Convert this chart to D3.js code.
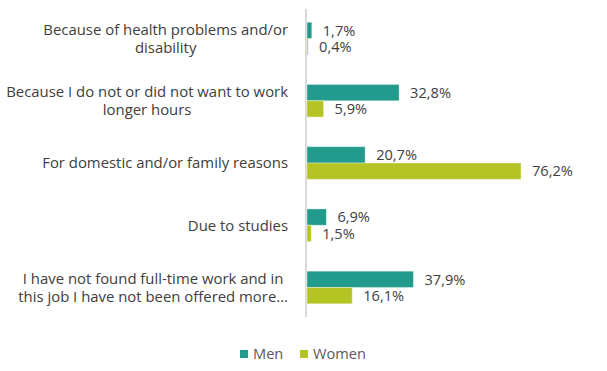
<!DOCTYPE html>
<html>
<head>
<meta charset="utf-8">
<script src="https://cdn.jsdelivr.net/npm/d3@7"></script>
<style>
  html, body { margin: 0; padding: 0; background: #fff; }
  svg { display: block; font-family: "Open Sans", Lato, sans-serif; }
</style>
</head>
<body>
<svg id="chart" width="607" height="371"></svg>
<script>
const categories = [
  ["Because of health problems and/or", "disability"],
  ["Because I do not or did not want to work", "longer hours"],
  ["For domestic and/or family reasons"],
  ["Due to studies"],
  ["I have not found full-time work and in", "this job I have not been offered more..."]
];
const seriesNames = ["Men", "Women"];
const men = [1.7, 32.8, 20.7, 6.9, 37.9];
const women = [0.4, 5.9, 76.2, 1.5, 16.1];
const colors = ["#239B8C", "#B4C424"];

const svg = d3.select("#chart");
const axisX = 306;
const x = d3.scaleLinear().domain([0, 76.2]).range([axisX + 1, 521]);
const idx = d3.range(categories.length);
const y0 = d3.scaleBand().domain(idx).range([7.4, 318.6]).paddingInner(0.476).paddingOuter(0.238);
const y1 = d3.scaleBand().domain(seriesNames).range([0, y0.bandwidth()]);

const data = idx.map(i => ({ i, values: [men[i], women[i]] }));
const fmt = v => d3.format(".1f")(v).replace(".", ",") + "%";
const FS = "14.6px";
const FSC = "14.9px";

svg.append("line")
  .attr("x1", axisX).attr("x2", axisX)
  .attr("y1", 9).attr("y2", 317)
  .attr("stroke", "#d9d9d9").attr("stroke-width", 2);

const g = svg.selectAll("g.grp").data(data).join("g")
  .attr("class", "grp")
  .attr("transform", d => `translate(0,${y0(d.i)})`);

g.selectAll("rect").data(d => d.values.map((v, k) => ({ v, k }))).join("rect")
  .attr("x", x(0))
  .attr("y", d => y1(seriesNames[d.k]))
  .attr("width", d => x(d.v) - x(0))
  .attr("height", y1.bandwidth())
  .attr("fill", d => colors[d.k])
  .attr("stroke", "rgba(255,255,255,0.35)")
  .attr("stroke-width", 1);

g.selectAll("text.val").data(d => d.values.map((v, k) => ({ v, k }))).join("text")
  .attr("class", "val")
  .attr("x", d => x(d.v) + 11)
  .attr("y", d => y1(seriesNames[d.k]) + y1.bandwidth() / 2)
  .attr("dy", "0.36em")
  .attr("fill", "#404040")
  .style("font-size", FS)
  .text(d => fmt(d.v));

const lineH = 18.5;
idx.forEach(i => {
  const lines = categories[i];
  const cy = y0(i) + y0.bandwidth() / 2;
  const t = svg.append("text")
    .attr("fill", "#404040")
    .style("font-size", FSC);
  lines.forEach((l, j) => {
    t.append("tspan")
      .attr("y", cy + (j - (lines.length - 1) / 2) * lineH)
      .attr("dy", "0.36em")
      .text(l);
  });
  const tsp = t.selectAll("tspan").nodes();
  const widths = tsp.map(n => n.getComputedTextLength());
  const maxW = d3.max(widths);
  const right = 288;
  tsp.forEach(n => {
    d3.select(n).attr("x", right - maxW / 2).attr("text-anchor", "middle");
  });
});

const legend = svg.append("g").attr("transform", "translate(0,354)");
const legX = [240, 300];
seriesNames.forEach((s, k) => {
  legend.append("rect").attr("x", legX[k]).attr("y", -4).attr("width", 8).attr("height", 8).attr("fill", colors[k]);
  legend.append("text").attr("x", legX[k] + 13).attr("y", 0).attr("dy", "0.36em")
    .attr("fill", "#595959").style("font-size", FS).text(s);
});
</script>
</body>
</html>
